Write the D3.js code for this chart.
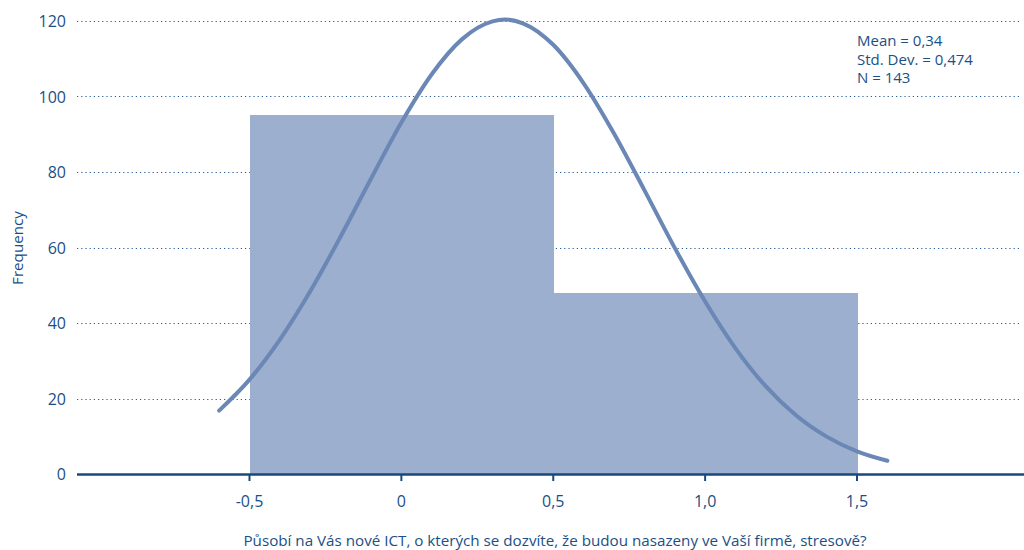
<!DOCTYPE html>
<html><head><meta charset="utf-8">
<script src="https://cdn.jsdelivr.net/npm/d3@7/dist/d3.min.js"></script>
<style>
html,body{margin:0;padding:0;background:#fff;}
text{font-family:"Open Sans",Arial,sans-serif;fill:#1b4f86;}
</style></head>
<body>
<svg id="c" width="1024" height="550"></svg>
<script>
// Data
const binStarts = [-0.5, 0.5];
const binEnds = [0.5, 1.5];
const binCounts = [95, 48];
const curveX = [-0.6,-0.5,-0.4,-0.3,-0.2,-0.1,0,0.1,0.2,0.3,0.34,0.4,0.5,0.6,0.7,0.8,0.9,1.0,1.1,1.2,1.3,1.4,1.5,1.6];
const curveY = [16.8,25.0,35.6,48.4,62.9,78.2,93.1,105.9,115.2,119.9,120.4,119.4,113.7,103.5,90.2,75.2,59.9,45.7,33.3,23.2,15.5,9.9,6.0,3.5];
const yTicks = [0,20,40,60,80,100,120];
const xTicks = [-0.5,0,0.5,1.0,1.5];
const xTickLabels = ["-0,5","0","0,5","1,0","1,5"];
const statLines = ["Mean = 0,34","Std. Dev. = 0,474","N = 143"];
const xTitle = "Působí na Vás nové ICT, o kterých se dozvíte, že budou nasazeny ve Vaší firmě, stresově?";
const yTitle = "Frequency";

const svg = d3.select("#c");
const L = 77, R = 1024, T = 21, B = 474;
const x = d3.scaleLinear().domain([-0.5,1.5]).range([249.5,857]);
const y = d3.scaleLinear().domain([0,120]).range([B,T]);

// gridlines
svg.append("g").selectAll("line").data(yTicks.filter(d=>d>0)).join("line")
  .attr("x1",L).attr("x2",1020).attr("y1",d=>Math.round(y(d))+0.5).attr("y2",d=>Math.round(y(d))+0.5)
  .attr("stroke","#2a5d96").attr("stroke-width",1.2).attr("stroke-dasharray","1.2,3");

// bars
svg.append("g").attr("shape-rendering","crispEdges").selectAll("rect").data(binCounts).join("rect")
  .attr("x",(d,i)=>x(binStarts[i])).attr("width",(d,i)=>x(binEnds[i])-x(binStarts[i])+0.5)
  .attr("y",d=>y(d)).attr("height",d=>B-y(d)).attr("fill","#9cafce");

// curve
const line = d3.line().x((d,i)=>x(curveX[i])).y(d=>y(d)).curve(d3.curveMonotoneX);
svg.append("path").attr("d",line(curveY)).attr("fill","none")
  .attr("stroke","#6a87b5").attr("stroke-width",4).attr("stroke-linecap","round");

// x axis line
svg.append("line").attr("x1",L).attr("x2",R).attr("y1",B+0.5).attr("y2",B+0.5)
  .attr("stroke","#17497f").attr("stroke-width",2.5);

// x ticks
svg.append("g").selectAll("line").data(xTicks).join("line")
  .attr("x1",d=>x(d)).attr("x2",d=>x(d)).attr("y1",B).attr("y2",B+7)
  .attr("stroke","#17497f").attr("stroke-width",2);
svg.append("g").selectAll("text").data(xTicks).join("text")
  .attr("x",d=>x(d)).attr("y",507).attr("text-anchor","middle")
  .attr("font-size",16).text((d,i)=>xTickLabels[i]);

// y labels
svg.append("g").selectAll("text").data(yTicks).join("text")
  .attr("x",66).attr("y",d=>y(d)+6).attr("text-anchor","end")
  .attr("font-size",16).text(d=>d);

// stats
svg.append("g").selectAll("text").data(statLines).join("text")
  .attr("x",857).attr("y",(d,i)=>46+i*18.5).attr("font-size",15).text(d=>d);

// titles
svg.append("text").attr("x",555).attr("y",546).attr("text-anchor","middle")
  .attr("font-size",15.2).text(xTitle);
svg.append("text").attr("transform","translate(23,248) rotate(-90)").attr("text-anchor","middle")
  .attr("font-size",15.2).text(yTitle);
</script>
</body></html>
